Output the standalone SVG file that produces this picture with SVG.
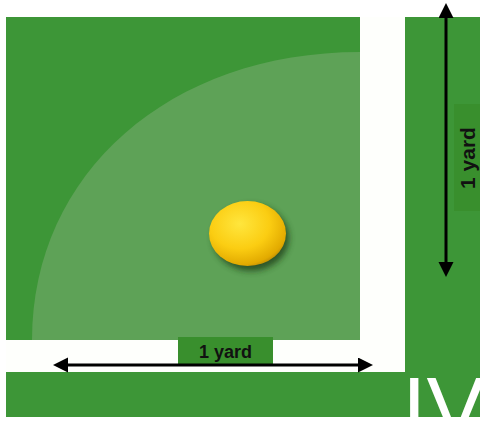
<svg xmlns="http://www.w3.org/2000/svg" width="480" height="421" viewBox="0 0 480 421">
  <style>
    .dark { fill: #3d9637; }
    .light { fill: #5ea257; }
    .band { fill: #fefffc; }
    .lbox { fill: #398f2d; }
    .lbl { font-family: "Liberation Sans", Arial, sans-serif; font-weight: bold; fill: #111; text-anchor: middle; }
    .arrow { stroke: #000; stroke-width: 3; fill: none; }
  </style>
  <defs>
    <marker id="head" markerUnits="userSpaceOnUse" markerWidth="16" markerHeight="16" refX="0" refY="7.5" orient="auto-start-reverse" viewBox="0 0 16 16">
      <path d="M0,0 L15,7.5 L0,15 Z" fill="#000"/>
    </marker>
    <radialGradient id="ballGrad" cx="0.4" cy="0.35" r="0.7">
      <stop offset="0" stop-color="#ffe63d"/>
      <stop offset="0.55" stop-color="#fbcd12"/>
      <stop offset="0.9" stop-color="#e2aa00"/>
      <stop offset="1" stop-color="#b98a05"/>
    </radialGradient>
    <filter id="blur" x="-30%" y="-30%" width="160%" height="160%">
      <feGaussianBlur stdDeviation="3"/>
    </filter>
    <clipPath id="fieldClip">
      <rect x="0" y="0" width="480" height="417"/>
    </clipPath>
    <clipPath id="cornerClip">
      <rect x="6" y="17" width="354" height="323"/>
    </clipPath>
  </defs>

  <rect width="480" height="421" fill="#ffffff"/>

  <g id="field">
    <rect class="dark" x="6" y="17" width="474" height="400"/>
    <path class="light" clip-path="url(#cornerClip)" d="M32,340 C32,173 170,52 360,52 L360,340 Z"/>
    <rect class="band" x="360" y="17" width="45" height="355"/>
    <rect class="band" x="6" y="340" width="399" height="32"/>
    <text x="402" y="438" clip-path="url(#fieldClip)" font-family="'Liberation Sans', Arial, sans-serif" font-size="88" fill="#ffffff">IV</text>
  </g>

  <g id="ball">
    <ellipse cx="251" cy="238" rx="38" ry="33" fill="#1d3a12" opacity="0.75" filter="url(#blur)"/>
    <ellipse cx="247.5" cy="233.5" rx="38.5" ry="32.5" fill="url(#ballGrad)"/>
  </g>

  <g id="label-horizontal">
    <rect class="lbox" x="178" y="337" width="95" height="27"/>
    <text class="lbl" x="225.5" y="358" font-size="18">1 yard</text>
  </g>

  <g id="label-vertical">
    <rect class="lbox" x="454" y="104" width="26" height="107"/>
    <text class="lbl" font-size="21" transform="translate(475,158) rotate(-90)">1 yard</text>
  </g>

  <g id="connectors">
    <line class="arrow" x1="68" y1="365" x2="358" y2="365" marker-start="url(#head)" marker-end="url(#head)"/>
    <line class="arrow" x1="446" y1="18" x2="446" y2="262" marker-start="url(#head)" marker-end="url(#head)"/>
  </g>
</svg>
